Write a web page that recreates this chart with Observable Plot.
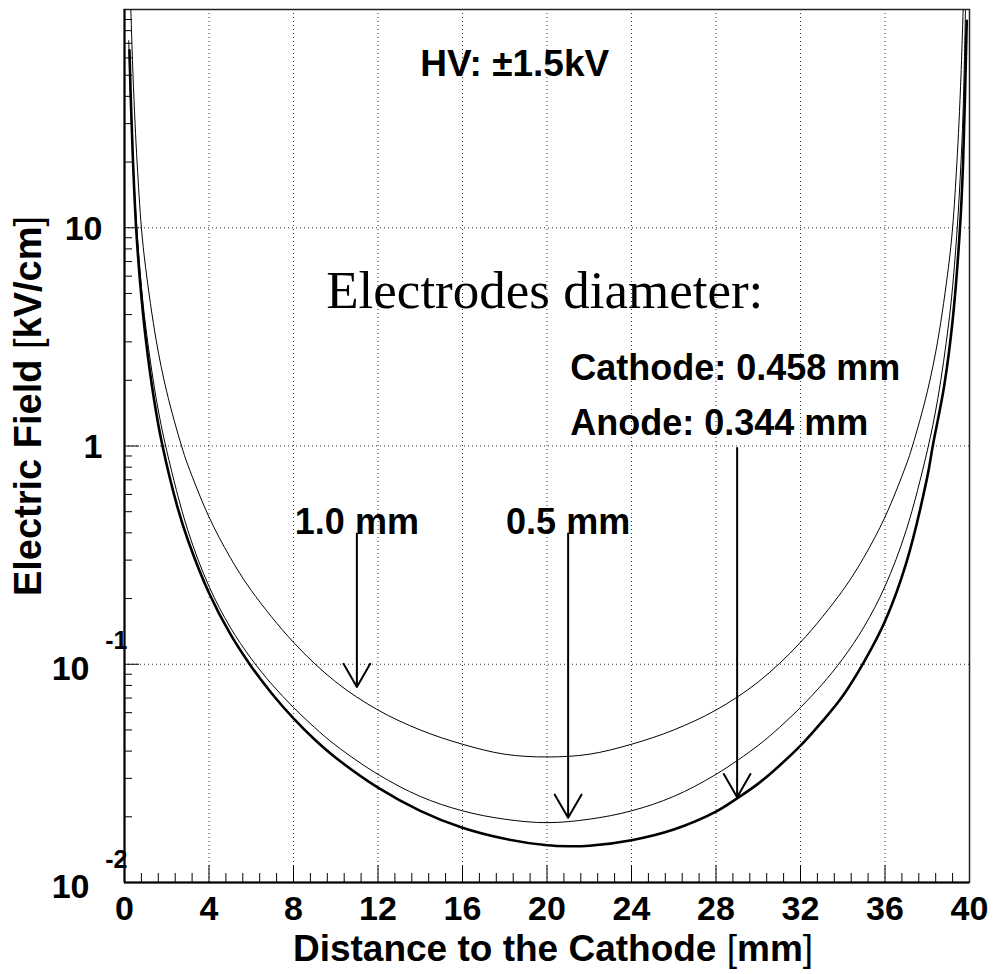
<!DOCTYPE html>
<html>
<head>
<meta charset="utf-8">
<script src="https://cdn.jsdelivr.net/npm/d3@7"></script>
<script src="https://cdn.jsdelivr.net/npm/@observablehq/plot@0.6"></script>
<style>
  body { margin: 0; background: #fff; }
  svg { display: block; }
</style>
</head>
<body>
<div id="chart"></div>
<script>
// ---- Data ----
// Electrode diameter 1.0 mm (upper thin curve)
const dist10 = [0.30,0.40,0.50,0.60,0.80,1.0,1.5,2.0,2.7,3.0,4,5,6,8,10,12,14,16,18,20,22,24,26,28,30,32,34,35,36,37,37.3,38,38.5,39,39.2,39.4,39.5,39.6,39.7];
const field10 = [100,50.8,30.1,19.6,10,6.56,3.05,1.77,1.0,0.818,0.473,0.309,0.218,0.126,0.083,0.0617,0.050,0.043,0.0387,0.0376,0.0387,0.043,0.050,0.0617,0.083,0.126,0.218,0.309,0.473,0.818,1.0,1.77,3.05,6.56,10,19.6,30.1,50.8,100];

// Electrode diameter 0.5 mm (middle thin curve)
const dist05 = [0.20,0.30,0.40,0.58,0.80,1.0,1.5,2.0,3.0,4,5,6,7,8,9,10,12,14,16,18,20,22,24,26,28,30,31,32,33,34,35,36,37,38,38.5,39,39.2,39.42,39.6,39.7,39.81];
const field05 = [72,35,20.2,10,5.37,3.55,1.65,0.95,0.41,0.2275,0.148,0.106,0.0804,0.0634,0.0513,0.0425,0.0313,0.0248,0.0213,0.0195,0.0188,0.0195,0.0213,0.0248,0.0313,0.0425,0.0513,0.0634,0.0804,0.106,0.148,0.2275,0.41,0.95,1.65,3.55,5.37,10,20.2,35,100];

// Cathode 0.458 mm / Anode 0.344 mm (thick curve)
const distCA = [0.236,0.30,0.40,0.55,0.75,1.0,1.4,1.8,2.5,3.0,4,5,6,7,8,9,10,12,14,16,18,20,21,22,24,26,28,29,30,31,32,33,34,35,36,37,38,38.26,38.8,39.2,39.55,39.7,39.87];
const fieldCA = [65,38.4,20.4,10,5.47,3.13,1.63,1.0,0.528,0.371,0.212,0.138,0.0977,0.0729,0.0565,0.0452,0.0373,0.0272,0.0213,0.0178,0.01585,0.01481,0.01466,0.01474,0.01563,0.0175,0.02113,0.0243,0.02838,0.0343,0.04236,0.0543,0.0716,0.1023,0.1574,0.290,0.72,1.0,1.88,3.75,10,20.4,88.7];

// Arrows (x in mm, field at start and tip) and their labels
const arrowDist = [11, 21, 29];
const arrowFrom = [0.397, 0.397, 0.98];
const arrowTo = [0.0787, 0.0198, 0.0246];
const arrowLabel = ["1.0 mm", "0.5 mm", ""];

// Axis ticks and labels
const xTickValues = [0,4,8,12,16,20,24,28,32,36,40];
const xGridValues = [4,8,12,16,20,24,28,32,36];
const yGridValues = [0.1, 1, 10];
const yPlainValues = [10, 1];
const yPlainLabels = ["10", "1"];
const yPowValues = [0.1, 0.01];
const yPowBase = ["10", "10"];
const yPowExp = ["-1", "-2"];

const xTitle = "Distance to the Cathode [mm]";
const yTitle = "Electric Field [kV/cm]";

// Text annotations (anchors in data coordinates)
const hvText = ["HV: \u00b11.5kV"];
const diamText = ["Electrodes diameter:"];
const electrodeText = ["Cathode: 0.458 mm", "Anode: 0.344 mm"];
const electrodeField = [2.01, 1.124];

// ---- Build tables ----
const rows = (xs, es) => xs.map((x, i) => ({x, e: es[i]}));
const c10 = rows(dist10, field10);
const c05 = rows(dist05, field05);
const cCA = rows(distCA, fieldCA);
const arrows = arrowDist.map((x, i) => ({x, from: arrowFrom[i], to: arrowTo[i], label: arrowLabel[i]}));

const xMinor = d3.range(0, 51).map(i => +(i * 0.8).toFixed(2)).filter(v => v < 40 && Math.abs(v / 4 - Math.round(v / 4)) > 1e-6);
const yMinor = [];
for (const p of [0.01, 0.1, 1, 10]) for (let k = 2; k <= 9; k++) yMinor.push(+(k * p).toPrecision(3));

const W = 993, H = 974, ML = 124, MR = 24, MT = 9, MB = 92;
const FH = H - MT - MB, FW = W - ML - MR;
const bold = {fontWeight: "bold", fill: "black"};

const svg = Plot.plot({
  width: W, height: H,
  marginLeft: ML, marginRight: MR, marginTop: MT, marginBottom: MB,
  style: {fontFamily: "'Liberation Sans', Arial, Helvetica, sans-serif", background: "white", color: "black"},
  x: {domain: [0, 40], axis: null},
  y: {type: "log", domain: [0.01, 100], axis: null},
  marks: [
    Plot.gridX(xGridValues, {stroke: "#333", strokeOpacity: 1, strokeWidth: 1, strokeDasharray: "1,3"}),
    Plot.gridY(yGridValues, {stroke: "#333", strokeOpacity: 1, strokeWidth: 1, strokeDasharray: "1,3"}),
    // ticks (inside)
    Plot.tickX(xTickValues, {x: d => d, insetTop: FH - 17, stroke: "black", strokeWidth: 1}),
    Plot.tickX(xMinor, {x: d => d, insetTop: FH - 9, stroke: "black", strokeWidth: 1}),
    Plot.tickY([0.1, 1, 10], {y: d => d, insetRight: FW - 15, stroke: "black", strokeWidth: 1}),
    Plot.tickY(yMinor, {y: d => d, insetRight: FW - 8, stroke: "black", strokeWidth: 1}),
    // curves
    Plot.line(c10, {x: "x", y: "e", curve: "catmull-rom", stroke: "black", strokeWidth: 1, clip: true}),
    Plot.line(c05, {x: "x", y: "e", curve: "catmull-rom", stroke: "black", strokeWidth: 1, clip: true}),
    Plot.line(cCA, {x: "x", y: "e", curve: "catmull-rom", stroke: "black", strokeWidth: 2.6, clip: true}),
    // arrows
    Plot.arrow(arrows, {x1: "x", y1: "from", x2: "x", y2: "to", stroke: "black", strokeWidth: 2, headLength: 20, headAngle: 60}),
    Plot.text(arrows.filter(d => d.label), {x: "x", y: "from", text: "label", textAnchor: "middle", lineAnchor: "bottom", fontSize: 36, ...bold}),
    // annotations
    Plot.text(hvText, {x: () => 14.0, y: () => 49.7, textAnchor: "start", lineAnchor: "bottom", fontSize: 37, ...bold}),
    Plot.text(diamText, {x: () => 9.55, y: () => 4.31, textAnchor: "start", lineAnchor: "bottom", fontSize: 53, fontFamily: "'Liberation Serif', 'Times New Roman', serif", fill: "black"}),
    Plot.text(electrodeText, {x: () => 21.1, y: (d, i) => electrodeField[i], textAnchor: "start", lineAnchor: "bottom", fontSize: 36, ...bold}),
    // frame and axes lines
    Plot.frame({stroke: "#222", strokeWidth: 1.5}),
    Plot.ruleX([0], {stroke: "black", strokeWidth: 2}),
    Plot.ruleY([0.01], {stroke: "black", strokeWidth: 2}),
    // tick labels
    Plot.text(xTickValues, {x: d => d, frameAnchor: "bottom", textAnchor: "middle", lineAnchor: "top", dy: 13, text: d => String(d), fontSize: 34, ...bold}),
    Plot.text(yPlainValues, {y: d => d, text: (d, i) => yPlainLabels[i], frameAnchor: "left", textAnchor: "end", lineAnchor: "middle", dx: -22, dy: 1, fontSize: 34, ...bold}),
    Plot.text(yPowValues, {y: d => d, text: (d, i) => yPowBase[i], frameAnchor: "left", textAnchor: "end", lineAnchor: "middle", dx: -35, dy: 5, fontSize: 34, ...bold}),
    Plot.text(yPowValues, {y: d => d, text: (d, i) => yPowExp[i], frameAnchor: "left", textAnchor: "end", lineAnchor: "middle", dx: 3, dy: -23, fontSize: 25, ...bold}),
    // axis titles
    Plot.text([xTitle], {frameAnchor: "bottom", textAnchor: "middle", lineAnchor: "bottom", dx: 6, dy: 78, fontSize: 37, ...bold}),
    Plot.text([yTitle], {frameAnchor: "left", textAnchor: "middle", rotate: -90, lineAnchor: "middle", dx: -96, dy: -40, fontSize: 38, ...bold})
  ]
});

// thin brackets in the axis titles, as in the original
d3.select(svg).selectAll("text").each(function () {
  const t = this.textContent;
  if (t === xTitle || t === yTitle) {
    const m = t.match(/^(.*)\[(.*)\]$/);
    const sel = d3.select(this);
    sel.text(null);
    sel.append("tspan").text(m[1]);
    sel.append("tspan").attr("font-weight", "normal").text("[");
    sel.append("tspan").text(m[2]);
    sel.append("tspan").attr("font-weight", "normal").text("]");
  }
});

document.getElementById("chart").appendChild(svg);
</script>
</body>
</html>
